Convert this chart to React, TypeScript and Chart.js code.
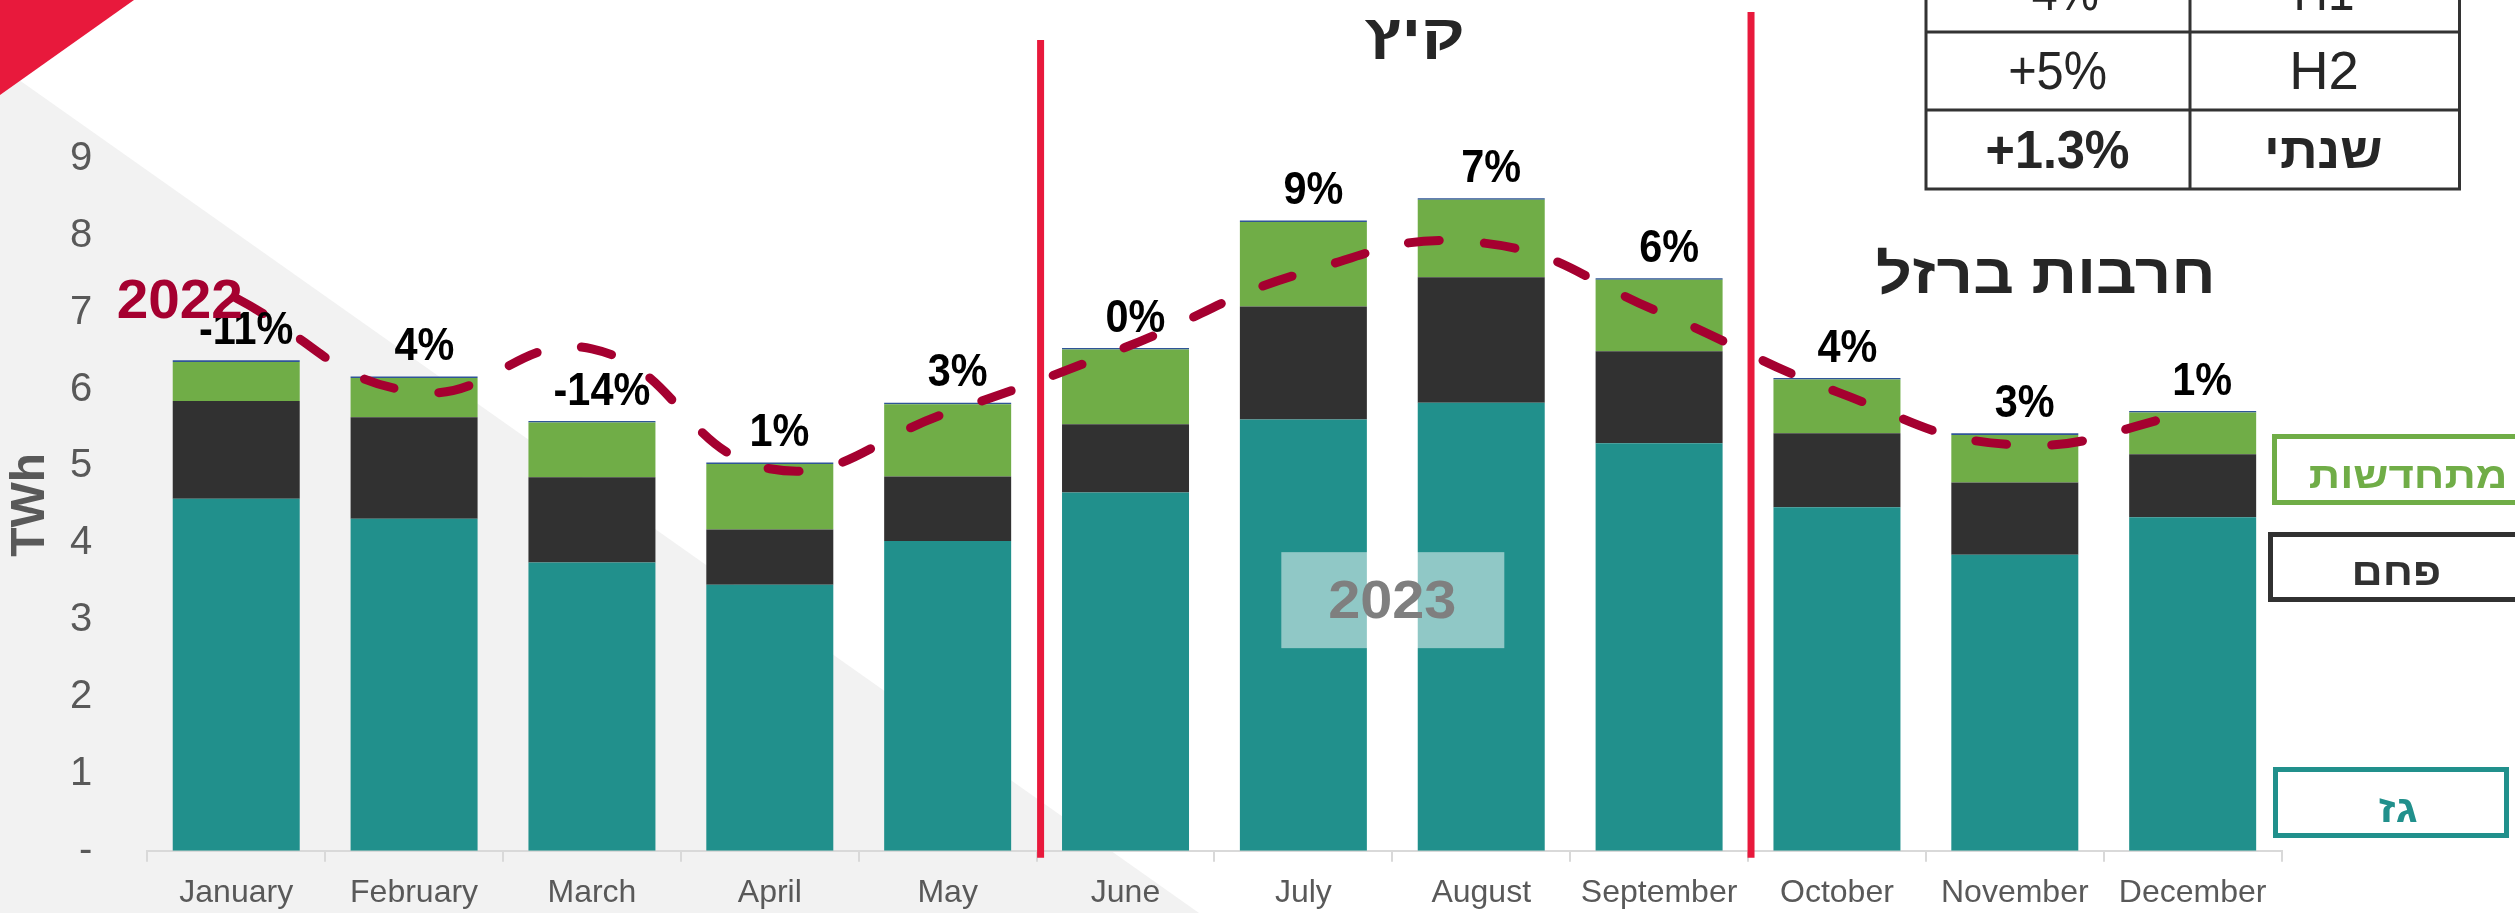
import React, { useEffect, useRef } from 'react';
import { Chart, registerables } from 'chart.js';

Chart.register(...registerables);

// ---- data ----
const months = ['January', 'February', 'March', 'April', 'May', 'June', 'July', 'August', 'September', 'October', 'November', 'December'];
const gas = [4.58, 4.32, 3.75, 3.46, 4.03, 4.66, 5.61, 5.83, 5.30, 4.47, 3.85, 4.34];
const coal = [1.27, 1.32, 1.11, 0.72, 0.84, 0.89, 1.47, 1.63, 1.20, 0.96, 0.94, 0.82];
const renewables = [0.51, 0.51, 0.71, 0.85, 0.94, 0.97, 1.10, 1.01, 0.93, 0.70, 0.62, 0.54];
const other = [0.02, 0.02, 0.02, 0.02, 0.02, 0.02, 0.02, 0.02, 0.02, 0.02, 0.02, 0.02];
const total2022 = [7.19, 5.97, 6.53, 4.97, 5.70, 6.55, 7.52, 7.91, 7.01, 5.97, 5.28, 5.70];
const changeLabels = ['-11%', '4%', '-14%', '1%', '3%', '0%', '9%', '7%', '6%', '4%', '3%', '1%'];
const yTicks = [0, 1, 2, 3, 4, 5, 6, 7, 8, 9];
const tableRows = [
  ['-4%', 'H1'],
  ['+5%', 'H2'],
  ['+1.3%', 'שנתי'],
];
const seriesNames = ['גז', 'פחם', 'מתחדשות', 'אחר'];

const FONT = '"Liberation Sans", Arial, "DejaVu Sans", sans-serif';
const C_GAS = '#21908C';
const C_COAL = '#313131';
const C_REN = '#70AD47';
const C_OTHER = '#2F5597';
const C_RED = '#E8193C';
const C_LINE = '#A50030';

function drawText(
  ctx: CanvasRenderingContext2D,
  text: string,
  cx: number,
  baseline: number,
  font: string,
  color: string,
  width?: number,
  sx?: number
) {
  ctx.save();
  ctx.font = font;
  ctx.fillStyle = color;
  ctx.textAlign = 'center';
  ctx.textBaseline = 'alphabetic';
  const m = ctx.measureText(text);
  const ink = m.actualBoundingBoxLeft + m.actualBoundingBoxRight;
  const s = width ? width / ink : sx ?? 1;
  const inkCenter = (m.actualBoundingBoxRight - m.actualBoundingBoxLeft) / 2;
  ctx.translate(cx, baseline);
  ctx.scale(s, 1);
  ctx.fillText(text, -inkCenter, 0);
  ctx.restore();
}

const overlayPlugin = {
  id: 'overlay',
  beforeDraw(chart: any) {
    const ctx = chart.ctx as CanvasRenderingContext2D;
    ctx.save();
    ctx.fillStyle = '#FFFFFF';
    ctx.fillRect(0, 0, 2515, 913);
    ctx.fillStyle = '#F2F2F2';
    ctx.beginPath();
    ctx.moveTo(0, 66.5);
    ctx.lineTo(1199, 913);
    ctx.lineTo(0, 913);
    ctx.closePath();
    ctx.fill();
    ctx.fillStyle = C_RED;
    ctx.beginPath();
    ctx.moveTo(0, 0);
    ctx.lineTo(134, 0);
    ctx.lineTo(0, 95);
    ctx.closePath();
    ctx.fill();
    ctx.restore();
  },
  beforeDatasetsDraw(chart: any) {
    const ctx = chart.ctx as CanvasRenderingContext2D;
    const xs = chart.scales.x;
    const b1 = (xs.getPixelForValue(4) + xs.getPixelForValue(5)) / 2 + 4;
    const b2 = (xs.getPixelForValue(8) + xs.getPixelForValue(9)) / 2 + 3;
    const bottom = chart.chartArea.bottom + 7;
    ctx.save();
    ctx.strokeStyle = C_RED;
    ctx.lineWidth = 7;
    ctx.beginPath();
    ctx.moveTo(b1, 40);
    ctx.lineTo(b1, bottom);
    ctx.moveTo(b2, 12);
    ctx.lineTo(b2, bottom);
    ctx.stroke();
    ctx.restore();
  },
  afterDatasetsDraw(chart: any) {
    const ctx = chart.ctx as CanvasRenderingContext2D;
    const xs = chart.scales.x;
    const ys = chart.scales.y;
    months.forEach((_, i) => {
      const total = gas[i] + coal[i] + renewables[i] + other[i];
      const top = ys.getPixelForValue(total);
      const cx = xs.getPixelForValue(i) + 10;
      const center = top - 33;
      drawText(ctx, changeLabels[i], cx, center + 16.5, `bold 46px ${FONT}`, '#000000', undefined, 0.9);
    });
    const lx = xs.getPixelForValue(0) - 57;
    const ly = ys.getPixelForValue(total2022[0]) + 20;
    drawText(ctx, '2022', lx, ly, `bold 56px ${FONT}`, C_LINE, 123);
    const bx = (xs.getPixelForValue(6) + xs.getPixelForValue(7)) / 2;
    const by = ys.getPixelForValue(3.26);
    ctx.save();
    ctx.fillStyle = 'rgba(255,255,255,0.5)';
    ctx.fillRect(bx - 111, by - 48, 223, 96);
    ctx.restore();
    drawText(ctx, '2023', bx, by + 18, `bold 54px ${FONT}`, '#7F7F7F', 126);
  },
  afterDraw(chart: any) {
    const ctx = chart.ctx as CanvasRenderingContext2D;
    drawText(ctx, 'קיץ', 1413, 50, `bold 50px ${FONT}`, '#262626', 97);
    drawText(ctx, 'חרבות ברזל', 2044, 293, `bold 56px ${FONT}`, '#262626', 334);

    const colX = [1926, 2190, 2459.5];
    const rowY = [-46, 32, 110, 189];
    ctx.save();
    ctx.strokeStyle = '#333333';
    ctx.lineWidth = 3;
    ctx.beginPath();
    colX.forEach((x) => {
      ctx.moveTo(x, rowY[0]);
      ctx.lineTo(x, rowY[3] + 1.5);
    });
    rowY.forEach((y) => {
      ctx.moveTo(colX[0] - 1.5, y);
      ctx.lineTo(colX[2] + 1.5, y);
    });
    ctx.stroke();
    ctx.restore();
    const c1 = (colX[0] + colX[1]) / 2;
    const c2 = (colX[1] + colX[2]) / 2;
    drawText(ctx, tableRows[0][0], c1, 10, `53px ${FONT}`, '#262626', undefined, 0.88);
    drawText(ctx, tableRows[0][1], c2, 10, `53px ${FONT}`, '#262626', undefined, 0.9);
    drawText(ctx, tableRows[1][0], c1, 89, `53px ${FONT}`, '#262626', 96);
    drawText(ctx, tableRows[1][1], c2, 89, `53px ${FONT}`, '#262626', 63);
    drawText(ctx, tableRows[2][0], c1, 168, `bold 53px ${FONT}`, '#262626', 141);
    drawText(ctx, tableRows[2][1], c2, 168, `bold 50px ${FONT}`, '#262626', 113);

    ctx.save();
    ctx.lineWidth = 5;
    ctx.strokeStyle = C_REN;
    ctx.strokeRect(2274.5, 436.5, 300, 66);
    ctx.strokeStyle = C_COAL;
    ctx.strokeRect(2270.5, 534.5, 300, 65);
    ctx.strokeStyle = C_GAS;
    ctx.strokeRect(2275.5, 769.5, 231, 66);
    ctx.restore();
    drawText(ctx, seriesNames[2], 2407, 488, `bold 37px ${FONT}`, C_REN, 194);
    drawText(ctx, seriesNames[1], 2397, 585, `bold 38px ${FONT}`, C_COAL, 84);
    drawText(ctx, seriesNames[0], 2398, 822, `bold 38px ${FONT}`, C_GAS, 39);
  },
};

export default function App() {
  const canvasRef = useRef<HTMLCanvasElement>(null);

  useEffect(() => {
    document.body.style.margin = '0';
    document.body.style.overflow = 'hidden';
    Chart.defaults.font.family = FONT;
    const canvas = canvasRef.current;
    if (!canvas) return;
    const chart = new Chart(canvas, {
      type: 'bar',
      data: {
        labels: months,
        datasets: [
          {
            type: 'line',
            label: '2022',
            data: total2022,
            borderColor: C_LINE,
            borderWidth: 9,
            borderDash: [31, 45],
            borderCapStyle: 'round',
            borderJoinStyle: 'round',
            pointRadius: 0,
            tension: 0.45,
            fill: false,
            stack: 'line',
            order: 0,
          } as any,
          { label: seriesNames[0], data: gas, backgroundColor: C_GAS, stack: 'bars', order: 1 },
          { label: seriesNames[1], data: coal, backgroundColor: C_COAL, stack: 'bars', order: 1 },
          { label: seriesNames[2], data: renewables, backgroundColor: C_REN, stack: 'bars', order: 1 },
          { label: seriesNames[3], data: other, backgroundColor: C_OTHER, stack: 'bars', order: 1 },
        ],
      },
      options: {
        responsive: false,
        maintainAspectRatio: false,
        animation: false,
        devicePixelRatio: 1,
        layout: { padding: { top: 159, right: 233.4, left: 0, bottom: 0 } },
        plugins: { legend: { display: false }, tooltip: { enabled: false } },
        datasets: { bar: { barPercentage: 0.714, categoryPercentage: 1, borderWidth: 0 } },
        scales: {
          x: {
            stacked: true,
            grid: { drawOnChartArea: false, drawTicks: true, color: '#D9D9D9', lineWidth: 2, tickLength: 11 },
            border: { display: true, color: '#D9D9D9', width: 2 },
            ticks: { color: '#595959', font: { size: 32 }, padding: 12, maxRotation: 0, autoSkip: false },
            afterFit: (s: any) => {
              s.height = 62.3;
            },
          },
          y: {
            stacked: true,
            min: yTicks[0],
            max: yTicks[yTicks.length - 1],
            afterBuildTicks: (s: any) => {
              s.ticks = yTicks.map((v) => ({ value: v }));
            },
            ticks: {
              color: '#595959',
              font: { size: 40 },
              padding: 55,
              callback: (v: any) => (Number(v) === 0 ? '-' : String(v)),
            },
            grid: { display: false, drawTicks: false },
            border: { display: false },
            title: {
              display: true,
              text: 'TWh',
              color: '#595959',
              font: { size: 48, weight: 'bold' },
              padding: { top: 2, bottom: 0 },
            },
            afterFit: (s: any) => {
              s.width = 147.3;
              s.paddingTop = 0;
              s.paddingBottom = 0;
            },
          },
        },
      } as any,
      plugins: [overlayPlugin],
    });
    return () => chart.destroy();
  }, []);

  return (
    <div style={{ position: 'absolute', left: 0, top: 0, width: 2515, height: 913 }}>
      <canvas ref={canvasRef} width={2515} height={913} style={{ width: 2515, height: 913, display: 'block' }} />
    </div>
  );
}
